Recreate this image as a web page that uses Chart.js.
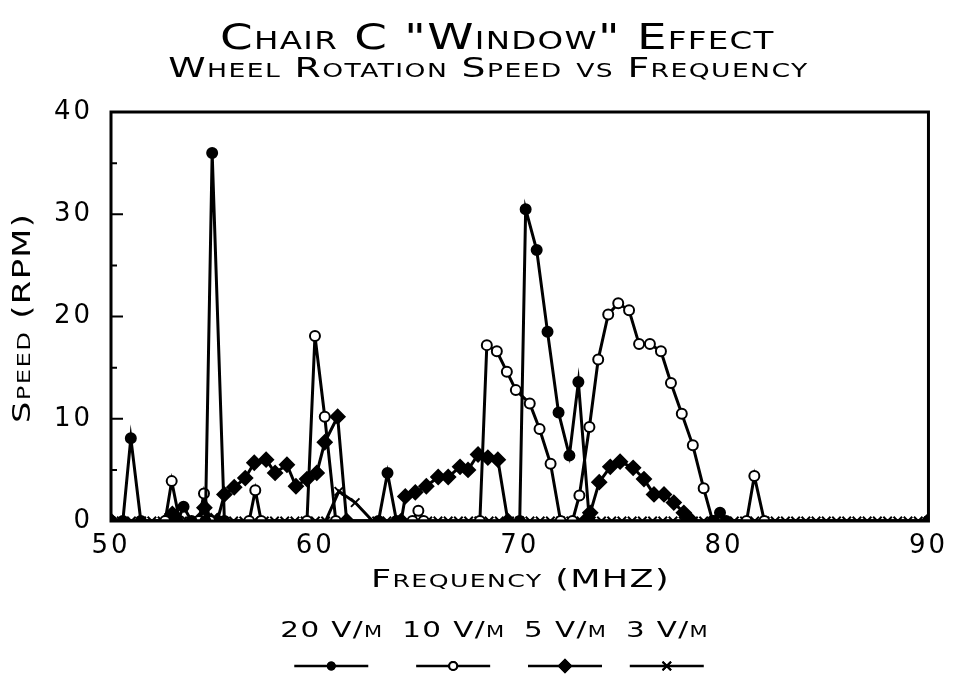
<!DOCTYPE html>
<html>
<head>
<meta charset="utf-8">
<script src="https://cdn.jsdelivr.net/npm/chart.js@4.4.1/dist/chart.umd.min.js"></script>
<style>
  html, body { margin: 0; padding: 0; background: #fff; }
  #wrap { width: 958px; height: 677px; }
</style>
</head>
<body>
<div id="wrap"><canvas id="myChart" width="958" height="677"></canvas></div>
<script>
  // values (frequency in MHz, speed in RPM)
  const freq20  = [50, 50.58, 50.97, 51.46, 53.26, 53.55, 53.94, 54.62, 54.95, 55.55, 63.09, 63.53, 63.97,
                   70.0, 70.29, 70.83, 71.36, 71.9, 72.43, 72.87, 73.41, 79.5, 79.8, 80.1, 90];
  const speed20 = [0, 0, 8.1, 0, 0, 1.4, 0, 0, 36.0, 0, 0, 4.7, 0,
                   0, 30.5, 26.5, 18.5, 10.6, 6.4, 13.6, 0, 0, 0.8, 0, 0];

  const freq10  = [50, 52.65, 52.97, 53.36, 54.3, 54.55, 54.85, 56.76, 57.06, 57.35, 59.59, 59.98, 60.46, 61.0,
                   64.75, 65.04, 65.3, 68.05, 68.39, 68.88, 69.37, 69.81, 70.49, 70.97, 71.51, 72.0,
                   72.58, 72.92, 73.41, 73.84, 74.33, 74.82, 75.35, 75.84, 76.37, 76.91, 77.4, 77.93, 78.47, 79.0, 79.44,
                   81.1, 81.48, 81.97, 90];
  const speed10 = [0, 0, 3.9, 0, 0, 2.7, 0, 0, 3.0, 0, 0, 18.1, 10.2, 0,
                   0, 1.0, 0, 0, 17.2, 16.6, 14.6, 12.8, 11.5, 9.0, 5.6, 0,
                   0, 2.5, 9.2, 15.8, 20.2, 21.3, 20.6, 17.3, 17.3, 16.6, 13.5, 10.5, 7.4, 3.2, 0,
                   0, 4.4, 0, 0];

  const freq5  = [50, 52.7, 53.0, 53.3, 54.3, 54.57, 54.9, 55.2, 55.55, 56.03, 56.57, 57.01, 57.59, 58.03, 58.61,
                  59.05, 59.59, 60.07, 60.46, 61.09, 61.53, 64.2, 64.4, 64.89, 65.43, 66.01, 66.5, 67.08, 67.47,
                  67.96, 68.44, 68.93, 69.42, 73.2, 73.45, 73.89, 74.43, 74.91, 75.55, 76.08, 76.57, 77.06,
                  77.54, 78.03, 78.4, 90];
  const speed5 = [0, 0, 0.7, 0, 0, 1.3, 0, 0, 2.6, 3.3, 4.2, 5.7, 6.0, 4.7, 5.5,
                  3.4, 4.1, 4.7, 7.7, 10.2, 0, 0, 2.4, 2.8, 3.4, 4.3, 4.3, 5.3, 5.0,
                  6.5, 6.2, 6.0, 0, 0, 0.8, 3.8, 5.3, 5.8, 5.2, 4.1, 2.6, 2.6,
                  1.8, 0.8, 0, 0];

  const freq3  = [50, 50.5, 51, 51.5, 52, 52.5, 53, 53.5, 54, 54.5, 55, 55.5, 56, 56.5, 57, 57.5, 58, 58.5,
                  59, 59.5, 60, 60.5, 61.15, 61.95, 62.8, 63, 63.5, 64, 64.5, 65, 65.5, 66, 66.5, 67, 67.5,
                  68, 68.5, 69, 69.5, 70, 70.5, 71, 71.5, 72, 72.5, 73, 73.5, 74, 74.5, 75, 75.5, 76, 76.5,
                  77, 77.5, 78, 78.5, 79, 79.5, 80, 80.5, 81, 81.5, 82, 82.5, 83, 83.5, 84, 84.5, 85, 85.5,
                  86, 86.5, 87, 87.5, 88, 88.5, 89, 89.5, 90];
  const speed3 = [0, 0, 0, 0, 0, 0, 0, 0, 0, 0, 0, 0, 0, 0, 0, 0, 0, 0,
                  0, 0, 0, 0, 2.9, 1.8, 0, 0, 0, 0, 0, 0, 0, 0, 0, 0, 0,
                  0, 0, 0, 0, 0, 0, 0, 0, 0, 0, 0, 0, 0, 0, 0, 0, 0, 0,
                  0, 0, 0, 0, 0, 0, 0, 0, 0, 0, 0, 0, 0, 0, 0, 0, 0, 0,
                  0, 0, 0, 0, 0, 0, 0, 0, 0];

  const seriesLabels = ['20 V/m', '10 V/m', '5 V/m', '3 V/m'];
  const titleText = 'Chair C "Window" Effect';
  const subtitleText = 'Wheel Rotation Speed vs Frequency';
  const xTitleText = 'Frequency (MHZ)';
  const yTitleText = 'Speed (RPM)';
  const yMajorTicks = [10, 20, 30];
  const yMinorTicks = [5, 15, 25, 35];

  const FONT = '"DejaVu Sans", "Open Sans", sans-serif';

  function pts(xs, ys) {
    return xs.map((x, i) => ({ x: x, y: ys[i] }));
  }

  // the original lettering is a wide small-caps face: stretch DejaVu sideways
  function wideText(ctx, text, x, y, size, sx, rotate) {
    const spacing = 1;
    ctx.save();
    ctx.font = 'small-caps ' + size + 'px ' + FONT;
    ctx.letterSpacing = spacing + 'px';
    ctx.textAlign = 'left';
    ctx.textBaseline = 'middle';
    ctx.fillStyle = '#000';
    const w = ctx.measureText(text).width - spacing;
    ctx.translate(x, y);
    if (rotate) ctx.rotate(-Math.PI / 2);
    ctx.scale(sx, 1);
    ctx.fillText(text, -w / 2, 0);
    ctx.restore();
    return w * sx;
  }

  const tickSpacing = {
    id: 'tickSpacing',
    beforeLayout(chart) { chart.ctx.letterSpacing = '3px'; },
    beforeDraw(chart) { chart.ctx.letterSpacing = '3px'; }
  };

  // titles and axis titles
  const headings = {
    id: 'headings',
    afterDraw(chart) {
      const ctx = chart.ctx;
      const a = chart.chartArea;
      const mid = (a.left + a.right) / 2;
      wideText(ctx, titleText, mid - 23, a.top - 72, 36, 1.3, false);
      wideText(ctx, subtitleText, mid - 32, a.top - 42, 27, 1.4, false);
      wideText(ctx, xTitleText, mid, a.bottom + 59, 25, 1.4, false);
      wideText(ctx, yTitleText, 23, (a.top + a.bottom) / 2 + 2, 25, 1.35, true);
    }
  };

  // box round the plot and the little ticks pointing into it
  const frame = {
    id: 'frame',
    afterDatasetsDraw(chart) {
      const ctx = chart.ctx;
      const a = chart.chartArea;
      const y = chart.scales.y;
      ctx.save();
      ctx.strokeStyle = '#000';
      ctx.lineWidth = 3;
      ctx.strokeRect(a.left, a.top, a.right - a.left, a.bottom - a.top);
      ctx.lineWidth = 2;
      ctx.beginPath();
      yMajorTicks.forEach(v => {
        const p = y.getPixelForValue(v);
        ctx.moveTo(a.left, p); ctx.lineTo(a.left + 12, p);
      });
      yMinorTicks.forEach(v => {
        const p = y.getPixelForValue(v);
        ctx.moveTo(a.left, p); ctx.lineTo(a.left + 6, p);
      });
      ctx.stroke();
      ctx.restore();
    }
  };

  // legend: labels on one row, sample line with marker under each
  const legendBelow = {
    id: 'legendBelow',
    afterDraw(chart) {
      const ctx = chart.ctx;
      const a = chart.chartArea;
      const sets = chart.data.datasets;
      const size = 21, sx = 1.4, gap = 20;
      ctx.save();
      ctx.font = 'small-caps ' + size + 'px ' + FONT;
      ctx.letterSpacing = '1px';
      const widths = sets.map(d => (ctx.measureText(d.label).width - 1) * sx);
      const total = widths.reduce((s, w) => s + w, 0) + gap * (sets.length - 1);
      let x = 494 - total / 2;
      const ty = a.bottom + 111;
      const sy = a.bottom + 145;
      const marks = [3.5, 4, 6, 6];
      sets.forEach((d, i) => {
        const cx = x + widths[i] / 2;
        wideText(ctx, d.label, cx, ty, size, sx, false);
        ctx.strokeStyle = '#000';
        ctx.lineWidth = 2.5;
        ctx.beginPath();
        ctx.moveTo(cx - 37, sy); ctx.lineTo(cx + 37, sy);
        ctx.stroke();
        ctx.lineWidth = 2;
        Chart.helpers.drawPoint(ctx, {
          pointStyle: d.pointStyle, radius: marks[i], borderWidth: 2, rotation: 0
        }, cx, sy);
        ctx.fillStyle = d.pointBackgroundColor;
        ctx.fill();
        ctx.stroke();
        x += widths[i] + gap;
      });
      ctx.restore();
    }
  };

  function line(label, data, style, radius, fill) {
    return {
      label: label,
      data: data,
      showLine: true,
      borderColor: '#000',
      borderWidth: 3,
      tension: 0,
      pointStyle: style,
      pointRadius: radius,
      pointBorderWidth: 2,
      pointBorderColor: '#000',
      pointBackgroundColor: fill
    };
  }

  const ctx = document.getElementById('myChart').getContext('2d');
  const myChart = new Chart(ctx, {
    type: 'scatter',
    data: {
      datasets: [
        line(seriesLabels[0], pts(freq20, speed20), 'circle', 5, '#000'),
        line(seriesLabels[1], pts(freq10, speed10), 'circle', 5, '#fff'),
        line(seriesLabels[2], pts(freq5, speed5), 'rectRot', 7, '#000'),
        line(seriesLabels[3], pts(freq3, speed3), 'crossRot', 6, '#000')
      ]
    },
    options: {
      responsive: false,
      animation: false,
      layout: { padding: { left: 0, right: 24, top: 112, bottom: 80 } },
      plugins: {
        legend: { display: false },
        tooltip: { enabled: false },
        title: { display: false }
      },
      scales: {
        x: {
          type: 'linear',
          min: 50,
          max: 90,
          grid: { display: false, drawTicks: false },
          border: { display: false },
          ticks: { stepSize: 10, color: '#000', padding: 10, font: { family: FONT, size: 26 } },
          afterFit(s) { s.height = 76; }
        },
        y: {
          min: 0,
          max: 40,
          grid: { display: false, drawTicks: false },
          border: { display: false },
          ticks: { stepSize: 10, color: '#000', padding: 18, font: { family: FONT, size: 26 } },
          afterFit(s) { s.width = 111; }
        }
      }
    },
    plugins: [tickSpacing, frame, headings, legendBelow]
  });
</script>
</body>
</html>
